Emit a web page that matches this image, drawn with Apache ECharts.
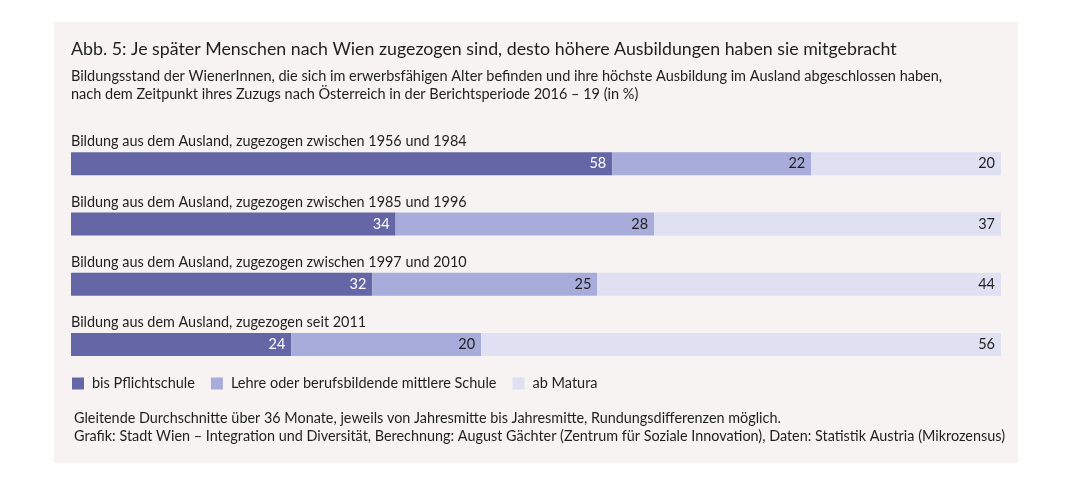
<!DOCTYPE html>
<html>
<head>
<meta charset="utf-8">
<script src="https://cdn.jsdelivr.net/npm/echarts@6/dist/echarts.min.js"></script>
<style>
html,body{margin:0;padding:0;background:#fff;}
#chart{width:1090px;height:489px;}
</style>
</head>
<body>
<div id="chart"></div>
<script>
// Categories (top to bottom)
var categories = [
  'Bildung aus dem Ausland, zugezogen zwischen 1956 und 1984',
  'Bildung aus dem Ausland, zugezogen zwischen 1985 und 1996',
  'Bildung aus dem Ausland, zugezogen zwischen 1997 und 2010',
  'Bildung aus dem Ausland, zugezogen seit 2011'
];
var seriesNames = ['bis Pflichtschule', 'Lehre oder berufsbildende mittlere Schule', 'ab Matura'];
// Printed values (in %)
var pflichtLabels = [58, 34, 32, 24];
var lehreLabels = [22, 28, 25, 20];
var maturaLabels = [20, 37, 44, 56];
// Segment lengths as drawn in the picture (rounding differences)
var pflicht = [58.2, 34.9, 32.4, 23.7];
var lehre = [21.4, 27.8, 24.2, 20.4];
var matura = [20.4, 37.3, 43.4, 55.9];

var colors = ['#6466a6', '#a7acdb', '#dfe1f2'];
var FONT = 'Lato, "Open Sans", sans-serif';
var TXT = '#1f1f1f';

function mkSeries(name, data, labels, color, labelColor) {
  return {
    name: name,
    type: 'bar',
    stack: 'total',
    barWidth: 23,
    data: data,
    itemStyle: {color: color},
    label: {
      show: true,
      position: 'insideRight',
      distance: 6,
      color: labelColor,
      fontFamily: FONT,
      fontSize: 14.5,
      formatter: function (p) { return labels[p.dataIndex]; }
    },
    emphasis: {disabled: true},
    silent: true
  };
}

var chart = echarts.init(document.getElementById('chart'), null, {renderer: 'canvas'});
chart.setOption({
  backgroundColor: '#ffffff',
  animation: false,
  graphic: [{
    type: 'rect', z: -10, silent: true,
    shape: {x: 54, y: 22, width: 964, height: 441},
    style: {fill: '#f6f3f2'}
  }],
  title: [{
    text: 'Abb. 5: Je später Menschen nach Wien zugezogen sind, desto höhere Ausbildungen haben sie mitgebracht',
    left: 66, top: 35,
    textStyle: {fontFamily: FONT, fontSize: 17.8, fontWeight: 'normal', color: TXT}
  }, {
    text: 'Bildungsstand der WienerInnen, die sich im erwerbsfähigen Alter befinden und ihre höchste Ausbildung im Ausland abgeschlossen haben,\nnach dem Zeitpunkt ihres Zuzugs nach Österreich in der Berichtsperiode 2016 – 19 (in %)',
    left: 66, top: 62,
    textStyle: {fontFamily: FONT, fontSize: 14.5, fontWeight: 'normal', color: TXT, lineHeight: 18}
  }, {
    text: 'Gleitende Durchschnitte über 36 Monate, jeweils von Jahresmitte bis Jahresmitte, Rundungsdifferenzen möglich.\nGrafik: Stadt Wien – Integration und Diversität, Berechnung: August Gächter (Zentrum für Soziale Innovation), Daten: Statistik Austria (Mikrozensus)',
    left: 69, top: 404,
    textStyle: {fontFamily: FONT, fontSize: 14.4, fontWeight: 'normal', color: TXT, lineHeight: 18}
  }],
  legend: {
    left: 67, top: 371,
    icon: 'rect', itemWidth: 12, itemHeight: 12, itemGap: 16,
    selectedMode: false,
    textStyle: {fontFamily: FONT, fontSize: 14.5, color: TXT, padding: [0, 0, 0, 3]},
    data: seriesNames
  },
  grid: {left: 71, right: 89, top: 133.5, height: 241, containLabel: false},
  xAxis: {
    type: 'value', min: 0, max: 100, show: false
  },
  yAxis: {
    type: 'category', inverse: true, data: categories,
    axisLine: {show: false}, axisTick: {show: false}, splitLine: {show: false},
    axisLabel: {
      inside: true, margin: 0, align: 'left', verticalAlign: 'bottom',
      padding: [0, 0, 15, 0],
      fontFamily: FONT, fontSize: 14.4, color: TXT
    }
  },
  series: [
    mkSeries(seriesNames[0], pflicht, pflichtLabels, colors[0], '#ffffff'),
    mkSeries(seriesNames[1], lehre, lehreLabels, colors[1], TXT),
    mkSeries(seriesNames[2], matura, maturaLabels, colors[2], TXT)
  ]
});
</script>
</body>
</html>
